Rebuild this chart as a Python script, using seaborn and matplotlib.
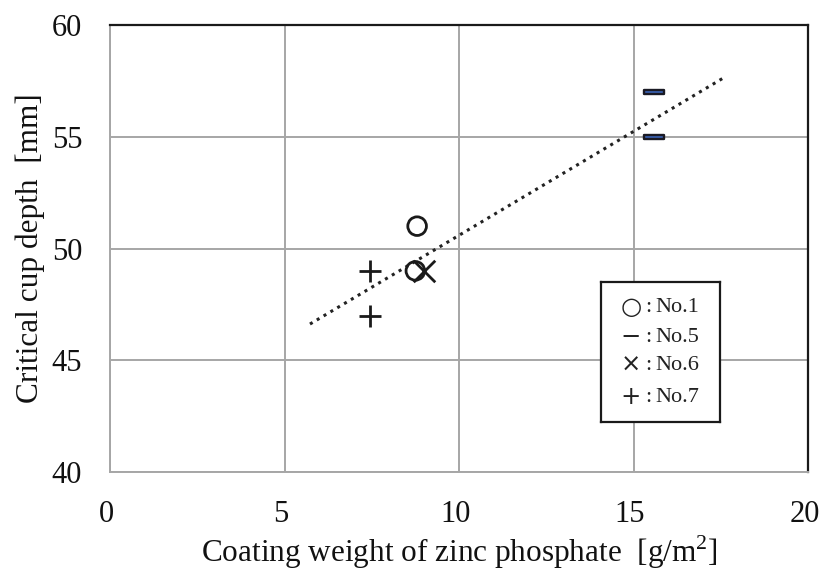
import numpy as np
import pandas as pd
import matplotlib
matplotlib.use("Agg")
import matplotlib.pyplot as plt
import matplotlib.transforms as mtrans
from matplotlib.path import Path
import seaborn as sns

# ---- data ----
no1_x = [8.8, 8.75]
no1_y = [51.0, 49.0]
no5_x = [15.6, 15.6]
no5_y = [57.0, 55.0]
no6_x = [9.0]
no6_y = [49.0]
no7_x = [7.45, 7.45]
no7_y = [49.0, 47.0]
trend_x = [5.73, 17.65]          # linear trend line ends
trend_y = [46.62, 57.70]
legend_labels = ["No.1", "No.5", "No.6", "No.7"]
legend_symbols = ["○", "−", "×", "+"]
x_ticks = [0, 5, 10, 15, 20]
y_ticks = [40, 45, 50, 55, 60]

sns.set_theme(style="white")
plt.rcParams["font.family"] = ["Liberation Serif", "DejaVu Serif"]
plt.rcParams["mathtext.fontset"] = "custom"
plt.rcParams["mathtext.rm"] = "Liberation Serif"

fig = plt.figure(figsize=(8.22, 5.71), dpi=100)
ax = fig.add_axes([110/822, 1 - 472/571, (808-110)/822, (472-25)/571])

grid_c = "#a6a6a6"
ax.set_xlim(0, 20)
ax.set_ylim(40, 60)
ax.set_xticks(x_ticks)
ax.set_yticks(y_ticks)
ax.grid(True, color=grid_c, linewidth=1.4)
ax.set_axisbelow(True)
for s in ["left", "bottom"]:
    ax.spines[s].set_color(grid_c)
    ax.spines[s].set_linewidth(1.4)
for s in ["top", "right"]:
    ax.spines[s].set_color("#1a1a1a")
    ax.spines[s].set_linewidth(1.6)
ax.tick_params(axis="both", direction="out", length=6, width=1.4, color=grid_c,
               labelsize=22, labelcolor="#111111", pad=14)
shift = mtrans.ScaledTranslation(-3.5 / 100, 0, fig.dpi_scale_trans)
for lbl in ax.get_xticklabels():
    lbl.set_transform(lbl.get_transform() + shift)

# trend line
trend = pd.DataFrame({"x": trend_x, "y": trend_y})
sns.lineplot(data=trend, x="x", y="y", ax=ax, color="#222222", linestyle=(0, (1, 1.6)),
             linewidth=2.2, legend=False)

# points
sns.scatterplot(x=no1_x, y=no1_y, ax=ax, marker="o", s=180, facecolor="none",
                edgecolor="#1a1a1a", linewidth=2.0, zorder=5)
dash = Path([(-1, -0.26), (1, -0.26), (1, 0.26), (-1, 0.26), (-1, -0.26)],
            [Path.MOVETO, Path.LINETO, Path.LINETO, Path.LINETO, Path.CLOSEPOLY])
sns.scatterplot(x=no5_x, y=no5_y, ax=ax, marker=dash, s=190, color="#3a64b8",
                edgecolor="#1a1a24", linewidth=1.7, zorder=5)
sns.scatterplot(x=no6_x, y=no6_y, ax=ax, marker="x", s=240, color="#1a1a1a",
                linewidth=2.0, zorder=5)
sns.scatterplot(x=no7_x, y=no7_y, ax=ax, marker="+", s=260, color="#1a1a1a",
                linewidth=2.0, zorder=5)

ax.set_xlabel("Coating weight of zinc phosphate  [g/m$^{\\mathrm{2}}$]", fontsize=22.5,
              color="#111111", labelpad=3)
ax.set_ylabel("Critical cup depth  [mm]", fontsize=22.5, color="#111111", labelpad=5)

# legend text box
bx0, by0, bx1, by1 = 601, 282, 720, 422
box_ax = fig.add_axes([bx0/822, 1 - by1/571, (bx1-bx0)/822, (by1-by0)/571])
box_ax.set_xlim(bx0, bx1)
box_ax.set_ylim(by1, by0)
box_ax.set_xticks([])
box_ax.set_yticks([])
box_ax.set_facecolor("white")
for s in box_ax.spines.values():
    s.set_color("#1a1a1a")
    s.set_linewidth(1.6)
row_y = [307, 337, 365, 397]
for sym, lab, yy in zip(legend_symbols, legend_labels, row_y):
    box_ax.text(631, yy, sym, ha="center", va="center", fontsize=17.5,
                color="#222222", family=["DejaVu Sans"])
    box_ax.text(648, yy, ":", ha="center", va="center", fontsize=16,
                color="#222222", family=["Liberation Serif", "DejaVu Serif"])
    box_ax.text(655, yy, lab, ha="left", va="center", fontsize=16,
                color="#222222", family=["Liberation Serif", "DejaVu Serif"])

fig.savefig("out.png", dpi=100)
